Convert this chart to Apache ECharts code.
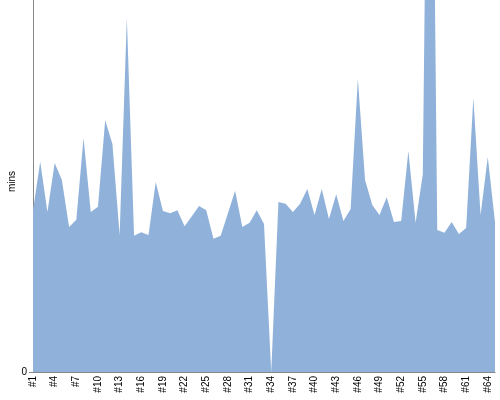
<!DOCTYPE html>
<html><head><meta charset="utf-8">
<script src="https://cdn.jsdelivr.net/npm/echarts@6/dist/echarts.min.js"></script>
<style>html,body{margin:0;padding:0;background:#fff}#c{width:500px;height:400px}</style>
</head><body><div id="c"></div>
<script>
const categories = [];
for (let i = 1; i <= 65; i++) categories.push('#' + i);
const values = [
  43.5, 56.5, 43.0, 56.2, 51.6, 39.0, 40.9, 62.9, 43.0, 44.4,
  67.7, 61.3, 36.8, 95.2, 36.6, 37.6, 36.8, 51.1, 43.3, 42.7,
  43.5, 39.2, 41.9, 44.6, 43.5, 35.8, 36.6, 42.7, 48.7, 39.0,
  40.1, 43.5, 39.8, 0, 45.7, 45.2, 43.0, 45.2, 49.2, 42.2,
  49.2, 41.1, 47.8, 40.6, 43.8, 78.8, 51.6, 44.9, 42.2, 47.0,
  40.3, 40.6, 59.4, 40.1, 53.2, 234, 38.2, 37.4, 40.3, 37.1,
  38.7, 73.7, 42.2, 57.8, 40.3
];
const yLabel = 'mins';
const yMin = 0, yMax = 100;
const yTicks = [0];

const chart = echarts.init(document.getElementById('c'), null, {renderer: 'canvas'});
const font = 'Liberation Sans';
chart.setOption({
  animation: false,
  grid: {left: 33, right: 5, top: 0, bottom: 28, containLabel: false, outerBoundsMode: 'none'},
  xAxis: {
    type: 'category', data: categories, boundaryGap: false,
    axisLine: {lineStyle: {color: '#888', width: 1}},
    axisTick: {show: false},
    axisLabel: {rotate: 90, interval: 2, color: '#000', fontFamily: font, fontSize: 10, margin: 4}
  },
  yAxis: {
    type: 'value', min: yMin, max: yMax, interval: 100,
    name: yLabel, nameLocation: 'middle', nameGap: 16, nameMoveOverlap: false,
    nameTextStyle: {color: '#000', fontFamily: font, fontSize: 10, padding: [0, 0, 0, 9]},
    axisLine: {show: true, lineStyle: {color: '#888', width: 1}},
    axisTick: {show: true, length: 4, customValues: yTicks, lineStyle: {color: '#888'}},
    splitLine: {show: false},
    axisLabel: {color: '#000', fontFamily: font, fontSize: 10, margin: 6, customValues: yTicks}
  },
  series: [{
    type: 'line', data: values, symbol: 'none', clip: true,
    lineStyle: {width: 0, color: '#90b2da'},
    areaStyle: {color: '#90b2da', opacity: 1}
  }]
});
</script></body></html>
